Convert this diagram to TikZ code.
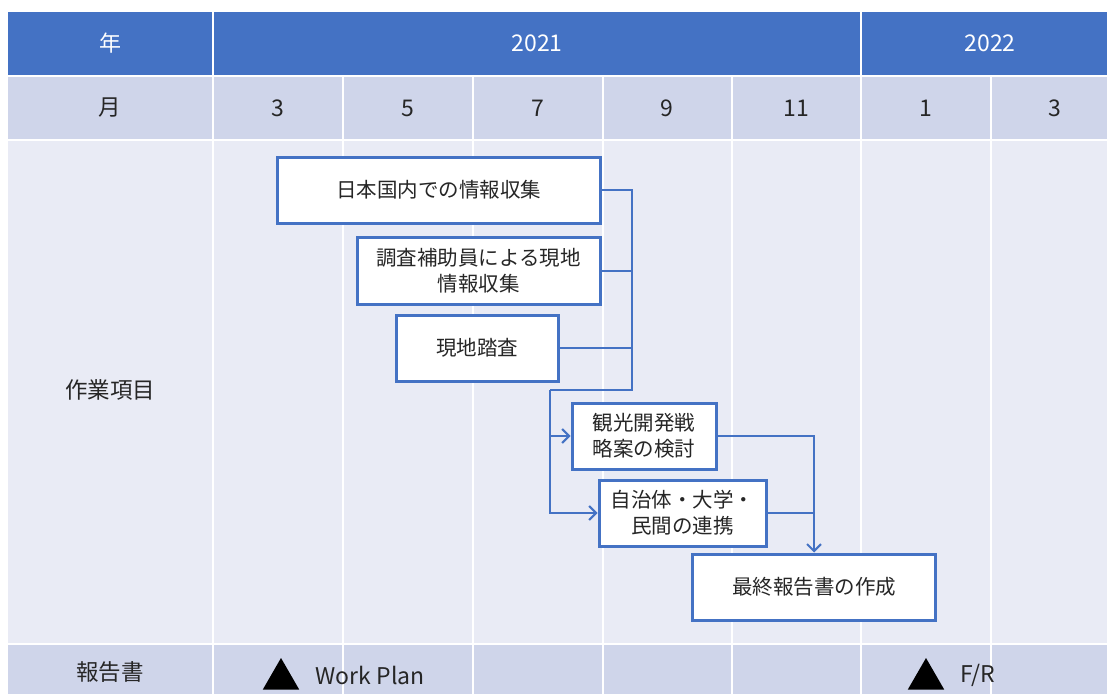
\documentclass[tikz,border=0pt]{standalone}
\usepackage{fontspec}
\setmainfont{Noto Sans CJK JP}
\usetikzlibrary{arrows.meta,shapes.geometric}
\definecolor{hdrblue}{HTML}{4472C4}
\definecolor{rowmid}{HTML}{CFD5EA}
\definecolor{rowlight}{HTML}{E9EBF5}
\tikzset{
  cellhdr/.style={fill=hdrblue,draw=white,line width=2pt},
  cellmid/.style={fill=rowmid,draw=white,line width=2pt},
  celllight/.style={fill=rowlight,draw=white,line width=2pt},
  hdrtext/.style={text=white,font=\fontsize{22}{26}\selectfont},
  lbltext/.style={text=black!85,font=\fontsize{22.5}{26}\selectfont},
  numtext/.style={text=black!85,font=\fontsize{23}{26}\selectfont},
  task/.style={draw=hdrblue,line width=3pt,fill=white,align=center,inner sep=0pt,
     font=\fontsize{20.5}{26}\selectfont,text=black!85},
  conn/.style={draw=hdrblue,line width=2pt},
  tip/.style={-{Straight Barb[length=7pt,width=14pt,line width=2pt]}},
  tri/.style={regular polygon,regular polygon sides=3,fill=black,minimum size=42pt,inner sep=0pt}
}
\begin{document}
\begin{tikzpicture}[x=1pt,y=-1pt]
\useasboundingbox (0,0) rectangle (1107,693);
\begin{scope}
\clip (0,0) rectangle (1107,693);
\fill[white] (0,0) rectangle (1107,693);
% row 1
\path[cellhdr] (7,11) rectangle (213,76);
\path[cellhdr] (213,11) rectangle (861,76);
\path[cellhdr] (861,11) rectangle (1120,76);
% row 2, body, footer
\foreach \a/\b in {7/213,213/343,343/473,473/603,603/732,732/861,861/991,991/1120}{
  \path[cellmid] (\a,76) rectangle (\b,140);
  \path[celllight] (\a,140) rectangle (\b,644);
  \path[cellmid] (\a,644) rectangle (\b,720);
}
\end{scope}
% header texts
\node[hdrtext] (y0) at (110,43) {年};
\node[hdrtext,font=\fontsize{23}{26}\selectfont] (y1) at (537,43) {2021};
\node[hdrtext,font=\fontsize{23}{26}\selectfont] (y2) at (990,43) {2022};
\node[lbltext] (m0) at (110,108) {月};
\node[numtext] (m1) at (278,108) {3};
\node[numtext] (m2) at (408,108) {5};
\node[numtext] (m3) at (538,108) {7};
\node[numtext] (m4) at (667,108) {9};
\node[numtext] (m5) at (796,108) {11};
\node[numtext] (m6) at (926,108) {1};
\node[numtext] (m7) at (1055,108) {3};
\node[lbltext] (body) at (110,390) {作業項目};
\node[lbltext] (rep) at (110,672) {報告書};
% tasks
\node[task,minimum width=323pt,minimum height=66pt] (b1) at (438.5,190) {日本国内での情報収集};
\node[task,minimum width=243pt,minimum height=67pt] (b2) at (478.5,270.5) {調査補助員による現地\\情報収集};
\node[task,minimum width=162pt,minimum height=66pt] (b3) at (477,348) {現地踏査};
\node[task,minimum width=144pt,minimum height=66pt] (b4) at (644,436) {観光開発戦\\略案の検討};
\node[task,minimum width=167pt,minimum height=66pt] (b5) at (682.5,513) {自治体・大学・\\民間の連携};
\node[task,minimum width=243pt,minimum height=66pt] (b6) at (814,587) {最終報告書の作成};
% connectors
\coordinate (j1) at (632,390);
\coordinate (j2) at (550,390);
\draw[conn] (b1.east) -| (j1) -- (j2);
\draw[conn] (b2.east) -- (b2.east -| j1);
\draw[conn] (b3.east) -- (b3.east -| j1);
\draw[conn,tip] (j2) |- (b5.west);
\draw[conn,tip] (j2 |- b4.west) -- (b4.west);
\draw[conn,tip] (b4.east) -| (b6.north);
\draw[conn] (b5.east) -- (b5.east -| b6.north);
% reports
\node[tri] (t1) at (281,679) {};
\node[numtext,anchor=west] (wp) at (312,675) {Work Plan};
\node[tri] (t2) at (926,679) {};
\node[numtext,anchor=west] (fr) at (957,675) {F/R};
\end{tikzpicture}
\end{document}
